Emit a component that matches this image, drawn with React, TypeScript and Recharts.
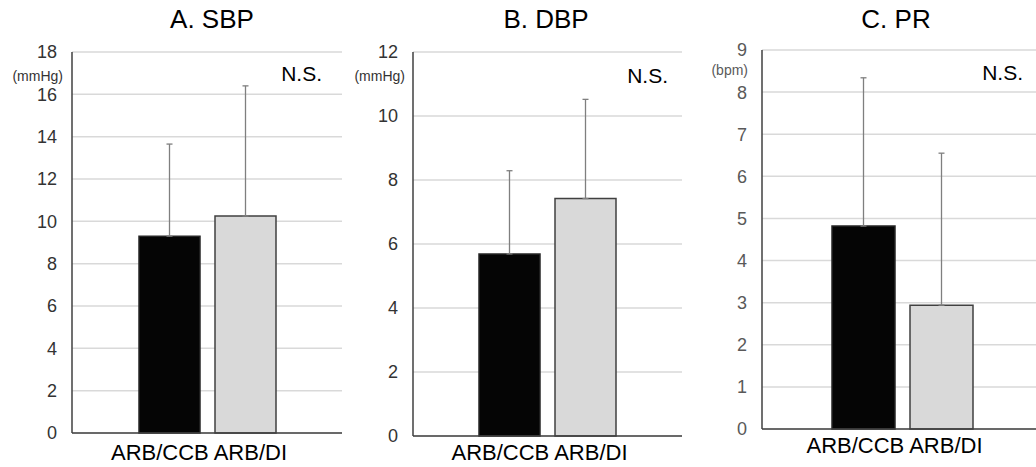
import React from "react";
import { BarChart, Bar, XAxis, YAxis, CartesianGrid, ErrorBar } from "recharts";

// one category on the x axis, two treatment groups drawn side by side
const categories = ["ARB/CCB ARB/DI"];
const groups = ["ARB/CCB", "ARB/DI"];

// change values (mean, upper SD)
const sbpMean = [9.3, 10.25];
const sbpSd = [4.35, 6.15];
const dbpMean = [5.69, 7.42];
const dbpSd = [2.6, 3.1];
const prMean = [4.82, 2.94];
const prSd = [3.52, 3.61];

const sbpTicks = [0, 2, 4, 6, 8, 10, 12, 14, 16, 18];
const dbpTicks = [0, 2, 4, 6, 8, 10, 12];
const prTicks = [0, 1, 2, 3, 4, 5, 6, 7, 8, 9];

const FONT = "'Liberation Sans', Arial, sans-serif";
const H = 467;
const AXIS_W = 60;

function buildRows(mean: number[], sd: number[]) {
  return categories.map((name) => ({
    name,
    a: mean[0],
    b: mean[1],
    aErr: [0, sd[0]],
    bErr: [0, sd[1]],
  }));
}

type PanelProps = {
  title: string;
  unit: string;
  mean: number[];
  sd: number[];
  ticks: number[];
  plotLeft: number;
  plotRight: number;
  plotTop: number;
  plotBottom: number;
  barSize: number;
  tickColor: string;
  unitOffset: number;
  unitDy: number;
  labelGap: number;
  nsRight: number;
  nsBaseline: number;
  titleCenter: number;
};

function Panel(p: PanelProps) {
  const rows = buildRows(p.mean, p.sd);
  const left = p.plotLeft - AXIS_W - 12;
  const width = p.plotRight - left + 8;
  const max = p.ticks[p.ticks.length - 1];
  return (
    <>
      <div
        style={{
          position: "absolute",
          left: p.titleCenter - 100,
          width: 200,
          top: 6,
          textAlign: "center",
          fontSize: 26,
          lineHeight: "26px",
          color: "#000",
        }}
      >
        {p.title}
      </div>
      <div style={{ position: "absolute", left, top: 0 }}>
        <BarChart
          width={width}
          height={H}
          data={rows}
          barSize={p.barSize}
          barGap={15}
          margin={{ top: p.plotTop, right: 8, left: 12, bottom: H - p.plotBottom - 30 }}
        >
          <CartesianGrid vertical={false} stroke="#d9d9d9" strokeWidth={1.5} />
          <XAxis
            dataKey="name"
            height={30}
            tickSize={0}
            tickMargin={p.labelGap}
            tick={{ fontSize: 22, fill: "#000", fontFamily: FONT, dx: -8 }}
            axisLine={{ stroke: "#404040", strokeWidth: 1.5 }}
          />
          <XAxis xAxisId="top" orientation="top" dataKey="name" height={0} tick={false} tickLine={false} axisLine={{ stroke: "#404040", strokeWidth: 1.5 }} />
          <YAxis
            domain={[0, max]}
            ticks={p.ticks}
            interval={0}
            width={AXIS_W}
            tickSize={0}
            tickMargin={15}
            tick={{ fontSize: 18, fill: p.tickColor, fontFamily: FONT }}
            axisLine={{ stroke: "#404040", strokeWidth: 1.5 }}
            label={{
              content: (props: any) => {
                const vb = props.viewBox || {};
                return (
                  <text
                    x={vb.x + vb.width - p.unitOffset}
                    y={vb.y + p.unitDy}
                    textAnchor="end"
                    fontSize={14}
                    fill={p.tickColor}
                    fontFamily={FONT}
                  >
                    {p.unit}
                  </text>
                );
              },
            }}
          />
          <YAxis yAxisId="r" orientation="right" width={0} domain={[0, max]} tick={false} tickLine={false} axisLine={{ stroke: "#404040", strokeWidth: 1.5 }} />
          <Bar dataKey="a" name={groups[0]} fill="#050505" stroke="#262626" strokeWidth={1.5} isAnimationActive={false}>
            <ErrorBar dataKey="aErr" width={3} stroke="#7f7f7f" strokeWidth={1.3} direction="y" />
          </Bar>
          <Bar dataKey="b" name={groups[1]} fill="#d9d9d9" stroke="#404040" strokeWidth={1.5} isAnimationActive={false}>
            <ErrorBar dataKey="bErr" width={3} stroke="#7f7f7f" strokeWidth={1.3} direction="y" />
          </Bar>
        </BarChart>
      </div>
      <div
        style={{
          position: "absolute",
          left: p.nsRight - 120,
          width: 120,
          top: p.nsBaseline - 18,
          textAlign: "right",
          fontSize: 21,
          lineHeight: "21px",
          color: "#000",
        }}
      >
        N.S.
      </div>
    </>
  );
}

export default function App() {
  return (
    <div
      style={{
        position: "fixed",
        left: 0,
        top: 0,
        width: 1036,
        height: H,
        overflow: "hidden",
        background: "#fff",
        fontFamily: FONT,
      }}
    >
      <Panel
        title="A. SBP"
        unit="(mmHg)"
        mean={sbpMean}
        sd={sbpSd}
        ticks={sbpTicks}
        plotLeft={72}
        plotRight={342}
        plotTop={52}
        plotBottom={433}
        barSize={61}
        tickColor="#333333"
        unitOffset={9}
        unitDy={29}
        labelGap={11}
        nsRight={322}
        nsBaseline={81}
        titleCenter={212}
      />
      <Panel
        title="B. DBP"
        unit="(mmHg)"
        mean={dbpMean}
        sd={dbpSd}
        ticks={dbpTicks}
        plotLeft={413}
        plotRight={682}
        plotTop={52}
        plotBottom={436}
        barSize={61}
        tickColor="#333333"
        unitOffset={8}
        unitDy={29}
        labelGap={8}
        nsRight={668}
        nsBaseline={83}
        titleCenter={546}
      />
      <Panel
        title="C. PR"
        unit="(bpm)"
        mean={prMean}
        sd={prSd}
        ticks={prTicks}
        plotLeft={762}
        plotRight={1043}
        plotTop={50}
        plotBottom={429}
        barSize={63}
        tickColor="#595959"
        unitOffset={14}
        unitDy={25}
        labelGap={8}
        nsRight={1023}
        nsBaseline={80}
        titleCenter={896}
      />
    </div>
  );
}
